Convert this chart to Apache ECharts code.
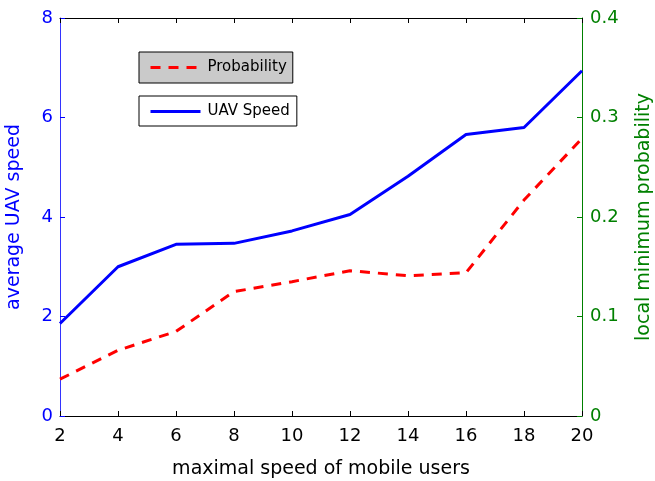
<!DOCTYPE html>
<html>
<head>
<meta charset="utf-8">
<script src="https://cdn.jsdelivr.net/npm/echarts@6/dist/echarts.min.js"></script>
<style>
html,body{margin:0;padding:0;background:#fff;}
#c{width:655px;height:481px;}
</style>
</head>
<body>
<div id="c"></div>
<script>
var xValues = [2, 4, 6, 8, 10, 12, 14, 16, 18, 20];
var uavSpeed = [1.86, 3.0, 3.45, 3.47, 3.72, 4.05, 4.82, 5.66, 5.80, 6.94];
var probability = [0.037, 0.066, 0.085, 0.125, 0.135, 0.146, 0.141, 0.144, 0.217, 0.279];
var xTitle = 'maximal speed of mobile users';
var yLeftTitle = 'average UAV speed';
var yRightTitle = 'local minimum probability';

var FONT = 'DejaVu Sans, sans-serif';
var chart = echarts.init(document.getElementById('c'), null, {renderer: 'canvas'});

function pairs(xs, ys) { return xs.map(function (x, i) { return [x, ys[i]]; }); }

chart.setOption({
  backgroundColor: '#ffffff',
  animation: false,
  grid: {left: 60, top: 18, width: 522, height: 398, containLabel: false, outerBoundsMode: 'none'},
  legend: [
    {
      data: ['Probability'], left: 139, top: 52, orient: 'horizontal',
      backgroundColor: '#cacaca', borderColor: '#000', borderWidth: 1,
      padding: [8, 6, 8, 10], itemWidth: 50, itemHeight: 14, itemGap: 7,
      itemStyle: {opacity: 0},
      lineStyle: {width: 3},
      textStyle: {fontFamily: FONT, fontSize: 15, color: '#000', padding: [0, 0, 0, 2]},
      selectedMode: false
    },
    {
      data: ['UAV Speed'], left: 139, top: 96, orient: 'horizontal',
      backgroundColor: '#ffffff', borderColor: '#000', borderWidth: 1,
      padding: [8, 7, 7, 10], itemWidth: 50, itemHeight: 14, itemGap: 7,
      itemStyle: {opacity: 0},
      lineStyle: {width: 3},
      textStyle: {fontFamily: FONT, fontSize: 15, color: '#000', padding: [0, 0, 0, 2]},
      selectedMode: false
    }
  ],
  xAxis: [
    {
      type: 'value', min: 2, max: 20, interval: 2, position: 'bottom',
      name: xTitle, nameLocation: 'middle', nameGap: 44,
      nameTextStyle: {fontFamily: FONT, fontSize: 19, color: '#000'},
      axisLine: {onZero: false, lineStyle: {color: '#000', width: 1}},
      axisTick: {inside: true, length: 5, lineStyle: {color: '#000'}},
      axisLabel: {fontFamily: FONT, fontSize: 18, color: '#000', margin: 11},
      splitLine: {show: false}
    },
    {
      type: 'value', min: 2, max: 20, interval: 2, position: 'top',
      axisLine: {onZero: false, lineStyle: {color: '#000', width: 1}},
      axisTick: {inside: true, length: 5, lineStyle: {color: '#000'}},
      axisLabel: {show: false},
      splitLine: {show: false}
    }
  ],
  yAxis: [
    {
      type: 'value', min: 0, max: 8, interval: 2, position: 'left',
      name: yLeftTitle, nameLocation: 'middle', nameGap: 36, nameRotate: 90,
      nameTextStyle: {fontFamily: FONT, fontSize: 19, color: '#0000ff'},
      axisLine: {show: true, onZero: false, lineStyle: {color: '#3333ff', width: 1}},
      axisTick: {show: true, inside: true, length: 5, lineStyle: {color: '#0000ff'}},
      axisLabel: {fontFamily: FONT, fontSize: 18, color: '#0000ff', margin: 7},
      splitLine: {show: false}
    },
    {
      type: 'value', min: 0, max: 0.4, interval: 0.1, position: 'right',
      name: yRightTitle, nameLocation: 'middle', nameGap: 53, nameRotate: 90,
      nameTextStyle: {fontFamily: FONT, fontSize: 19, color: '#008000'},
      axisLine: {show: true, onZero: false, lineStyle: {color: '#008000', width: 1}},
      axisTick: {show: true, inside: true, length: 5, lineStyle: {color: '#008000'}},
      axisLabel: {fontFamily: FONT, fontSize: 18, color: '#008000', margin: 8},
      splitLine: {show: false}
    }
  ],
  series: [
    {
      name: 'Probability', type: 'line', xAxisIndex: 0, yAxisIndex: 1,
      data: pairs(xValues, probability), symbol: 'none',
      lineStyle: {color: '#ff0000', width: 3, type: [10, 8]},
      itemStyle: {color: '#ff0000'}, z: 3
    },
    {
      name: 'UAV Speed', type: 'line', xAxisIndex: 0, yAxisIndex: 0,
      data: pairs(xValues, uavSpeed), symbol: 'none',
      lineStyle: {color: '#0000ff', width: 3, type: 'solid'},
      itemStyle: {color: '#0000ff'}, z: 4
    }
  ]
});
</script>
</body>
</html>
